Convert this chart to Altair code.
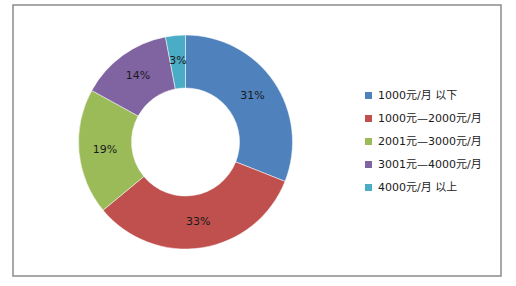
import altair as alt
import pandas as pd

categories = ["1000元/月 以下", "1000元—2000元/月", "2001元—3000元/月", "3001元—4000元/月", "4000元/月 以上"]
values = [31, 33, 19, 14, 3]
labels = ["31%", "33%", "19%", "14%", "3%"]
colors = ["#4F81BD", "#C0504D", "#9BBB59", "#8064A2", "#4BACC6"]

df = pd.DataFrame({"cat": categories, "val": values, "lab": labels, "idx": list(range(len(values)))})

FONT = "DejaVu Sans, Noto Sans CJK SC"
cx, cy = 172.5, 137

base = alt.Chart(df).encode(
    theta=alt.Theta("val:Q", stack=True),
    order=alt.Order("idx:Q"),
)

arcs = base.mark_arc(outerRadius=107, innerRadius=54, stroke="white", strokeWidth=0.5).encode(
    color=alt.Color(
        "cat:N",
        sort=categories,
        scale=alt.Scale(domain=categories, range=colors),
        legend=alt.Legend(
            title=None,
            orient="none",
            legendX=350,
            legendY=85,
            symbolType="square",
            symbolSize=49,
            symbolStrokeWidth=0,
            labelFont=FONT,
            labelFontSize=11,
            labelColor="#1a1a1a",
            rowPadding=11,
            labelOffset=4,
            padding=0,
        ),
    ),
    x=alt.value(cx),
    y=alt.value(cy),
)

texts = base.mark_text(radius=81, font=FONT, fontSize=11, color="#1a1a1a").encode(
    text="lab:N",
    x=alt.value(cx),
    y=alt.value(cy),
)

chart = (
    alt.layer(arcs, texts)
    .properties(
        width=488,
        height=271,
        autosize=alt.AutoSizeParams(type="none"),
        padding={"left": 13, "top": 5, "right": 15, "bottom": 10},
        background="white",
    )
    .configure_view(stroke="#8C8C8C", strokeWidth=1.5)
)

chart.save("out.html", embed_options={"renderer": "svg", "actions": False})
